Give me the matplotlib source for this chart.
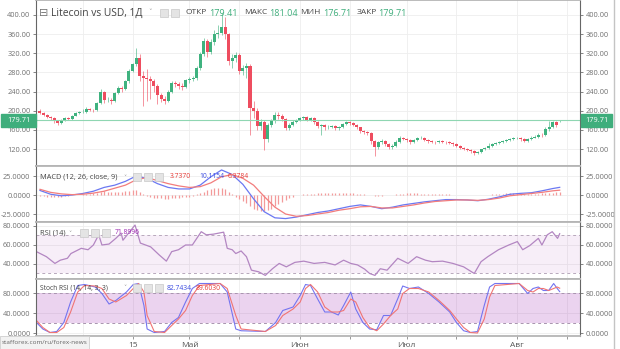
import matplotlib
matplotlib.use("Agg")
import matplotlib.pyplot as plt
from matplotlib.patches import Rectangle
from matplotlib.lines import Line2D

plt.rcParams['font.family'] = ['Open Sans', 'DejaVu Sans']

# daily candles, day 0 = 20 Mar
opens = [200, 195, 191, 186, 184, 178, 175, 181, 184, 183, 190, 195, 197, 198, 204, 202, 201, 216, 240, 222,
         223, 221, 237, 247, 246, 262, 284, 297, 310, 273, 269, 266, 262, 252, 232, 224, 221, 240, 258, 256,
         252, 250, 264, 267, 268, 290, 318, 346, 322, 344, 360, 362, 374, 360, 304, 310, 316, 283, 290, 294,
         206, 200, 168, 176, 141, 170, 178, 191, 188, 182, 164, 171, 177, 180, 184, 186, 181, 184, 176, 168,
         170, 166, 167, 168, 163, 166, 172, 176, 174, 171, 165, 157, 155, 154, 136, 124, 134, 136, 130, 124,
         127, 135, 144, 141, 138, 134, 138, 143, 144, 139, 136, 135, 134, 136, 135, 134, 133, 130, 127, 123,
         121, 118, 115, 111, 114, 119, 123, 126, 130, 132, 135, 137, 139, 140, 142, 143, 140, 137, 140, 144,
         146, 150, 149, 161, 166, 176, 179.41]
closes = [195, 191, 186, 184, 178, 175, 181, 184, 183, 190, 195, 197, 198, 204, 202, 201, 216, 240, 222, 223,
          221, 237, 247, 246, 262, 284, 297, 310, 273, 269, 266, 262, 252, 232, 224, 221, 240, 258, 256, 252,
          250, 264, 267, 268, 290, 318, 346, 322, 344, 360, 362, 374, 360, 304, 310, 316, 283, 290, 294, 206,
          200, 168, 176, 141, 170, 178, 191, 188, 182, 164, 171, 177, 180, 184, 186, 181, 184, 176, 168, 170,
          166, 167, 168, 163, 166, 172, 176, 174, 171, 165, 157, 155, 154, 136, 124, 134, 136, 130, 124, 127,
          135, 144, 141, 138, 134, 138, 143, 144, 139, 136, 135, 134, 136, 135, 134, 133, 130, 127, 123, 121,
          118, 115, 111, 114, 119, 123, 126, 130, 132, 135, 137, 139, 140, 142, 143, 140, 137, 140, 144, 146,
          150, 149, 161, 166, 176, 170, 179.71]
highs = [203, 197, 193, 189, 186, 180, 183, 187, 187, 192, 197, 199, 203, 207, 206, 204, 219, 245, 242, 228,
         226, 239, 251, 252, 265, 287, 300, 330, 318, 283, 288, 272, 266, 255, 236, 230, 243, 262, 262, 260,
         257, 266, 270, 272, 294, 322, 352, 350, 350, 368, 380, 405, 395, 362, 318, 322, 320, 296, 300, 298,
         220, 205, 182, 180, 175, 182, 198, 197, 193, 185, 174, 180, 183, 187, 190, 188, 187, 186, 178, 173,
         172, 170, 171, 170, 169, 175, 179, 178, 176, 173, 167, 160, 158, 156, 139, 137, 140, 138, 132, 130,
         138, 147, 146, 143, 140, 141, 146, 147, 146, 141, 138, 137, 139, 138, 137, 136, 135, 132, 129, 125,
         123, 120, 117, 116, 121, 125, 132, 132, 135, 137, 139, 141, 143, 145, 146, 145, 142, 142, 147, 149,
         153, 153, 165, 178, 179, 178, 181.04]
lows = [193, 188, 184, 181, 175, 170, 173, 179, 180, 181, 188, 193, 195, 196, 199, 197, 199, 214, 216, 218,
        215, 219, 234, 240, 243, 258, 280, 294, 262, 210, 220, 225, 240, 215, 218, 214, 219, 236, 250, 246,
        244, 248, 258, 262, 265, 286, 314, 312, 318, 338, 352, 358, 350, 296, 290, 302, 276, 275, 268, 150,
        185, 160, 160, 118, 135, 166, 175, 182, 178, 160, 160, 168, 174, 178, 181, 178, 178, 172, 164, 150,
        160, 162, 163, 160, 160, 164, 170, 171, 168, 162, 153, 151, 150, 130, 105, 120, 130, 127, 120, 121,
        125, 133, 138, 135, 131, 132, 136, 140, 137, 133, 132, 131, 132, 132, 131, 130, 127, 124, 120, 118,
        115, 112, 107, 109, 112, 117, 121, 124, 128, 130, 133, 135, 137, 138, 140, 137, 134, 135, 138, 142,
        144, 145, 147, 158, 163, 166, 176.71]

# MACD lines, read every 3 days
macd_x = [0, 3, 6, 9, 12, 15, 18, 21, 24, 27, 30, 33, 36, 39, 42, 45, 48, 51, 54, 57, 60, 63, 66, 69, 72,
          75, 78, 81, 84, 87, 90, 93, 96, 99, 102, 105, 108, 111, 114, 117, 120, 123, 126, 129, 132, 135,
          138, 141, 144, 146]
macd = [6, 1, -1, 0, 2, 5, 10, 13, 18, 25, 22, 15, 10, 8, 8, 13, 24, 33, 27, 14, -5, -22, -30, -31, -29,
        -26, -23, -21, -18, -15, -13, -15, -18, -16, -13, -11, -9, -7.5, -6, -6, -6.5, -7.5, -5.5, -2.5, 1,
        2.2, 3, 5.5, 8.5, 10.1154]
signal = [7.5, 3.5, 1.5, 0.5, 1, 2.5, 5, 9, 13, 20, 23, 19, 15, 12, 10, 11, 16, 24, 27, 22, 13, -2, -16,
          -25, -28, -27, -25, -23, -20, -18, -15.5, -15, -17, -17, -15, -13, -10.5, -8.5, -7.5, -6.5, -6.5,
          -7, -6, -4, -1, 0.5, 2, 3.5, 5.5, 6.3784]
hist = [-1.5, -1.8, -2, -2.5, -2.5, -2.3, -2.2, -1.8, -1.2, -0.5, 0, 0.5, 1, 1.3, 1.8, 2.3, 3, 4.5, 5, 4.5,
        4.2, 4, 4.2, 4.5, 5, 5.5, 6, 6, 4, 1, -1, -2.5, -3.5, -4, -4.5, -5, -5, -4.5, -4, -3.5,
        -3, -2.5, -2, -1, 1, 2.5, 4.5, 6, 8, 9, 9.5, 9.5, 8, 4, 1, -2, -5, -8, -11, -15,
        -18, -20, -21, -21, -20, -18, -15, -12, -9, -6, -4, -2, -0.5, 0.5, 1, 1.5, 1.8, 2, 2.2, 2.3,
        2.4, 2.5, 2.5, 2.5, 2.6, 2.6, 2.5, 2.4, 2.3, 2, 1.5, 0.8, 0, -0.5, -1, -1, -0.8, -0.5, 0, 0.5,
        1, 1.5, 2, 2.2, 2.3, 2.3, 2.2, 2, 1.8, 1.5, 1.3, 1.2, 1, 0.8, 0.8, 0.7, 0.5, 0.3, 0, -0.2,
        -0.3, -0.5, -0.5, -0.5, -0.3, 0, 0.5, 1, 1.5, 1.8, 2, 2.2, 2.3, 2.3, 2.2, 2, 1.8, 1.6, 1.5, 1.6,
        1.8, 2.2, 2.6, 3, 3.3, 3.5, 3.737]

rsi_x = [-1, 1.8, 4.2, 5.7, 7.7, 8.7, 11.6, 13.5, 15, 16.5, 17.4, 19.4, 21.3, 22.8, 23.3, 25.2, 26.7, 28.2,
         31.1, 33.5, 35.5, 37, 38.9, 40.9, 42.8, 45.3, 46.7, 48.7, 51.6, 52.6, 54, 55, 56.5, 58, 59.4, 61.4,
         63.3, 65.3, 67.2, 69.2, 71.6, 74.1, 77, 80, 82.9, 85.3, 87.3, 89.2, 91.2, 92.6, 94.1, 95.6, 97.5,
         100.5, 103.4, 105.8, 108.3, 110.2, 113.1, 116, 119, 122, 123.9, 125.8, 128.8, 131.7, 134.1, 135.6,
         137.6, 140, 141, 142.5, 143.9, 145.4, 146]
rsi = [53, 47.7, 40.6, 44, 46, 51, 56.5, 55, 60, 70.7, 60, 61, 67, 72.5, 65, 74, 81, 62, 58, 49.5, 43, 53,
       55, 60, 60, 74, 70.7, 71.4, 73.5, 56.5, 55, 51, 53.7, 47.7, 33.5, 31.8, 28, 35, 40.6, 37, 41.7, 43,
       40.6, 41.7, 39, 44, 40.6, 39, 34.6, 30, 28, 35, 33.5, 46, 40.6, 47.7, 44, 42.4, 43, 40.6, 37, 30,
       42.4, 47.7, 55, 60, 63.6, 55, 59.4, 67, 60, 70.7, 74, 67, 71.8996]

stoch_x = [-1, 0.8, 2.8, 4.7, 6.7, 8.6, 10.6, 12.5, 15.5, 17.4, 19.4, 21.3, 24.3, 26.2, 27.7, 29.2, 30.1,
           32.1, 35, 37, 38.9, 40.9, 42.8, 44.8, 50.6, 52.6, 55, 56.5, 63.3, 66.2, 68.2, 71.1, 73.1, 74.6,
           76, 78, 80, 81.9, 83.8, 85.3, 87.3, 88.7, 90.7, 92.6, 94.6, 96.5, 98.5, 100.5, 101.9, 103.8,
           106.3, 109.2, 112.1, 115.1, 117, 119, 120.9, 122.9, 124.8, 126.3, 127.8, 134.6, 137, 138.5, 140,
           141.4, 142.9, 144.3, 145.3, 146]
stoch_k = [21, 8, 1, 3, 21, 62, 95, 97, 92, 79, 58, 65, 82, 97, 99, 55, 8, 1, 3, 21, 31, 62, 89, 99, 99, 82,
           8, 4.5, 3, 21, 45, 52, 75, 97, 95, 68, 42, 42, 36, 55, 82, 48, 21, 8, 6.5, 35, 35, 68.5, 94, 89,
           92, 79, 62, 42, 21, 4.5, 1, 3, 55, 92, 99, 99, 79, 89, 92, 85, 85, 99, 89, 82.7434]
stoch_d = [25, 11, 1, 1, 11, 42, 82, 95, 94, 89, 68, 62, 75, 89, 99, 82, 35, 3, 1, 15, 28, 45, 75, 95, 99, 89,
           35, 8, 3, 15, 35, 48, 62, 89, 97, 82, 52, 42, 42, 45, 68, 62, 31, 11, 4.5, 18, 35, 48, 79, 89, 89,
           82, 65, 45, 28, 11, 1, 0, 28, 72, 95, 99, 85, 82, 89, 89, 85, 89, 92, 89.603]

grid_days = [12, 26, 42, 56, 73, 87, 103, 117, 134, 148]
grid_labels = ['', '15', 'Май', '', 'Июн', '', 'Июл', '', 'Авг', '']

W, H = 620, 349
up_col = '#3fb27f'
down_col = '#ee4d5f'


def fx(x):
    return x / W


def fy(y):
    return 1 - y / H


def pane(top, bottom):
    return fig.add_axes([fx(36), fy(bottom), fx(580) - fx(36), fy(top) - fy(bottom)])


fig = plt.figure(figsize=(6.2, 3.49), dpi=100)
ax_p = pane(0, 166)
ax_m = pane(166, 222)
ax_r = pane(222, 279)
ax_s = pane(279, 336)

# candles
days = list(range(len(closes)))
cols = [up_col if c >= o else down_col for o, c in zip(opens, closes)]
ax_p.vlines(days, lows, highs, colors=cols, linewidth=0.6, alpha=0.7)
bottoms = [min(o, c) for o, c in zip(opens, closes)]
heights = [max(abs(c - o), 0.8) for o, c in zip(opens, closes)]
ax_p.bar(days, heights, bottom=bottoms, width=0.85, color=cols, linewidth=0)
ax_p.axhline(closes[-1], color='#8fd6b2', linewidth=0.8)

ax_m.vlines(days, 0, hist, colors='#f39a9a', linewidth=0.9)
ax_m.plot(macd_x, macd, color='#6b78f2', linewidth=0.9)
ax_m.plot(macd_x, signal, color='#f27d7d', linewidth=0.9)

ax_r.axhspan(30, 70, color='#9c27b0', alpha=0.08, linewidth=0)
ax_r.axhline(70, color='#b8a8bc', linewidth=0.7, dashes=(3, 3))
ax_r.axhline(30, color='#b8a8bc', linewidth=0.7, dashes=(3, 3))
ax_r.plot(rsi_x, rsi, color='#b386c2', linewidth=0.9)

ax_s.axhspan(20, 80, color='#9c27b0', alpha=0.2, linewidth=0)
ax_s.axhline(80, color='#a894ae', linewidth=0.7, dashes=(3, 3))
ax_s.axhline(20, color='#a894ae', linewidth=0.7, dashes=(3, 3))
ax_s.plot(stoch_x, stoch_k, color='#7474f0', linewidth=0.8)
ax_s.plot(stoch_x, stoch_d, color='#f07474', linewidth=0.8)

limits = [(ax_p, (84.5, 431.3), [120, 160, 200, 240, 280, 320, 360, 400], '%.2f'),
          (ax_m, (-35.5, 38.2), [-25, 0, 25], '%.4f'),
          (ax_r, (24.2, 84.2), [40, 60, 80], '%.4f'),
          (ax_s, (-6, 108), [0, 40, 80], '%.4f')]
for ax, lim, ticks, fmt in limits:
    ax.set_xlim(-1.12, 151.7)
    ax.set_ylim(*lim)
    ax.set_yticks(ticks)
    ax.set_yticklabels([fmt % t for t in ticks])
    ax.set_xticks(grid_days)
    ax.grid(True, color='#eeeeee', linewidth=0.6)
    ax.set_axisbelow(True)
    ax.tick_params(axis='y', labelleft=True, labelright=True, left=True, right=True,
                   length=2, width=0.6, pad=2, labelsize=5.3, colors='#707070')
    ax.tick_params(axis='x', length=0, labelbottom=False)
    for side in ['left', 'right']:
        ax.spines[side].set_color('#666666')
        ax.spines[side].set_linewidth(0.8)
    for side in ['top', 'bottom']:
        ax.spines[side].set_color('#b5b5b5')
        ax.spines[side].set_linewidth(1.3)

ax_s.set_xticklabels(grid_labels)
ax_s.tick_params(axis='x', length=2.5, width=0.6, labelbottom=True, pad=1.5,
                 labelsize=6, labelcolor='#555555', color='#888888')

# last price markers
py = H - ax_p.transData.transform((0, closes[-1]))[1]
for x0, x1 in [(1, 36), (581, 612)]:
    fig.patches.append(Rectangle((fx(x0), fy(py + 6.5)), fx(x1) - fx(x0), 13 / H,
                                 transform=fig.transFigure, color='#3fae7c', zorder=5))
    fig.text(fx((x0 + x1) / 2), fy(py), '179.71', color='white', fontsize=5.3,
             ha='center', va='center', zorder=6)

# legends
fig.text(fx(39), fy(13), '⊟', fontsize=8, color='#777777', va='center')
fig.text(fx(51), fy(13), 'Litecoin vs USD, 1Д', fontsize=7.4, color='#444444', va='center')
fig.text(fx(148), fy(13), '˅', fontsize=5, color='#999999', va='center')
for lab, lx, val, vx in [('ОТКР', 185, '179.41', 209), ('МАКС', 244, '181.04', 269),
                         ('МИН', 300, '176.71', 323), ('ЗАКР', 357, '179.71', 378)]:
    fig.text(fx(lx), fy(13), lab, fontsize=6, color='#444444', va='center')
    fig.text(fx(vx), fy(13), val, fontsize=6.5, color='#3fae7c', va='center')

legend_rows = [(177, 'MACD (12, 26, close, 9)', 5.3, 123, 133,
                [('3.7370', 170, '#e53935'), ('10.1154', 199, '#3949e0'), ('6.3784', 228, '#e53935')]),
               (233, 'RSI (14)', 5.3, 68, 80, [('71.8996', 115, '#9c27b0')]),
               (288, 'Stoch RSI (14, 14, 3, 3)', 4.8, 123, 133,
                [('82.7434', 167, '#3949e0'), ('89.6030', 196, '#e53935')])]
for ly, name, fs, cx, bx, vals in legend_rows:
    fig.text(fx(40), fy(ly), name, fontsize=fs, color='#444444', va='center')
    fig.text(fx(cx), fy(ly), '˅', fontsize=4.5, color='#999999', va='center')
    for k in range(3):
        fig.patches.append(Rectangle((fx(bx + k * 11), fy(ly + 4)), 8 / W, 8 / H,
                                     transform=fig.transFigure, facecolor='#e4e4e4',
                                     edgecolor='#c8c8c8', linewidth=0.5))
    for val, vx, vc in vals:
        fig.text(fx(vx), fy(ly), val, fontsize=4.9, color=vc, va='center')

for k in range(2):
    fig.patches.append(Rectangle((fx(160 + k * 11), fy(17)), 8 / W, 8 / H,
                                 transform=fig.transFigure, facecolor='#e4e4e4',
                                 edgecolor='#c8c8c8', linewidth=0.5))

# browser status bar
fig.patches.append(Rectangle((0, 0), fx(89), 13 / H, transform=fig.transFigure,
                             facecolor='#f2f2f2', edgecolor='#cfcfcf', linewidth=0.6, zorder=7))
fig.text(fx(2), fy(343), 'stafforex.com/ru/forex-news', fontsize=4.6, color='#666666',
         va='center', zorder=8)

fig.lines.append(Line2D([fx(614), fx(614)], [0, 1], transform=fig.transFigure,
                        color='#c4c4c4', linewidth=1))

fig.savefig('out.png', dpi=100)
